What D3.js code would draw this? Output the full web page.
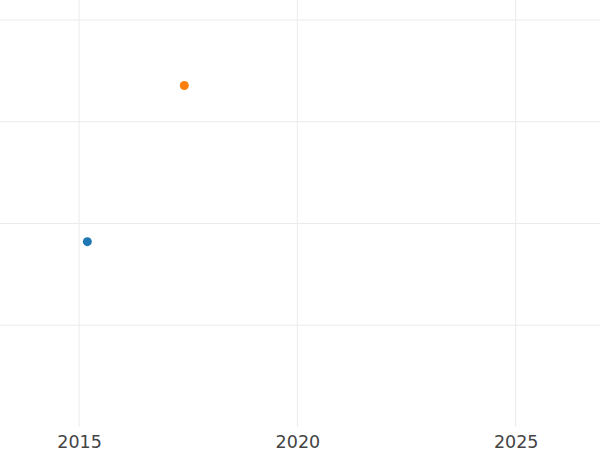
<!DOCTYPE html>
<html>
<head>
<meta charset="utf-8">
<script src="https://cdn.jsdelivr.net/npm/d3@7"></script>
<style>
  html, body { margin: 0; padding: 0; background: #fff; }
  svg { display: block; }
</style>
</head>
<body>
<div id="chart"></div>
<script>
// Data
const seriesNames = ["A", "B"];
const xValues = [2015.19, 2017.41];
const yValues = [1.822, 3.357];
const seriesColors = ["#1f77b4", "#ff7f0e"];
const xTickValues = [2015, 2020, 2025];
const yTickValues = [1, 2, 3, 4];

const W = 600, H = 450;
const plotBottom = 427;

const svg = d3.select("#chart").append("svg")
  .attr("width", W).attr("height", H);

const x = d3.scaleLinear().domain([2013.19, 2026.93]).range([0, W]);
const y = d3.scaleLinear().domain([0, 4.197]).range([plotBottom, 0]);

// Vertical grid
svg.append("g").selectAll("line").data(xTickValues).join("line")
  .attr("x1", d => x(d)).attr("x2", d => x(d))
  .attr("y1", 0).attr("y2", plotBottom)
  .attr("stroke", "#ebebeb").attr("stroke-width", 1);

// Horizontal grid
svg.append("g").selectAll("line").data(yTickValues).join("line")
  .attr("x1", 0).attr("x2", W)
  .attr("y1", d => y(d)).attr("y2", d => y(d))
  .attr("stroke", "#ebebeb").attr("stroke-width", 1);

// X axis labels
const xAxis = d3.axisBottom(x).tickValues(xTickValues).tickFormat(d3.format("d")).tickSize(0).tickPadding(0);
const gx = svg.append("g").attr("transform", `translate(0,${plotBottom})`).call(xAxis);
gx.select(".domain").remove();
gx.selectAll("text")
  .attr("y", 20.5)
  .attr("dy", 0)
  .attr("fill", "#444")
  .style("font-family", "DejaVu Sans, sans-serif")
  .style("font-size", "17.5px");

// Points
const pts = xValues.map((v, i) => ({ name: seriesNames[i], x: v, y: yValues[i], c: seriesColors[i] }));
svg.append("g").selectAll("circle").data(pts).join("circle")
  .attr("cx", d => x(d.x)).attr("cy", d => y(d.y))
  .attr("r", 4.5)
  .attr("fill", d => d.c);
</script>
</body>
</html>
